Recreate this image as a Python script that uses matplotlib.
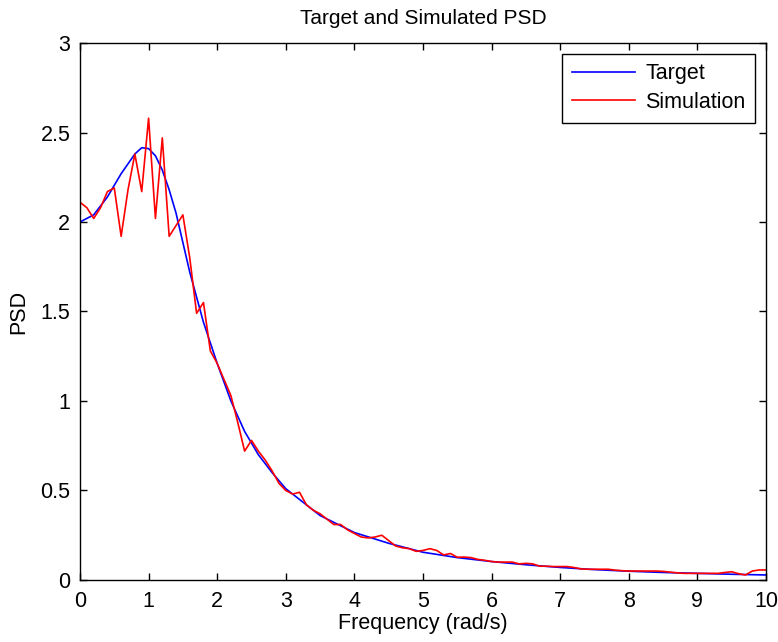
import numpy as np
import matplotlib
matplotlib.use('Agg')
import matplotlib.pyplot as plt
from matplotlib.ticker import FuncFormatter

plt.rcParams['font.family'] = ['Liberation Sans', 'DejaVu Sans']

# target PSD (smooth)
target_freq = [0, 0.2, 0.4, 0.6, 0.8, 0.9, 1.0, 1.1, 1.2, 1.3, 1.4, 1.6, 1.8, 2.0, 2.2, 2.4, 2.6, 2.8, 3.0,
               3.5, 4.0, 4.5, 5.0, 5.5, 6.0, 6.5, 7.0, 7.5, 8.0, 8.5, 9.0, 9.5, 10.0]
target_psd = [2.00, 2.04, 2.14, 2.27, 2.38, 2.415, 2.41, 2.37, 2.29, 2.18, 2.05, 1.72, 1.44, 1.21, 1.00, 0.83,
              0.70, 0.60, 0.51,
              0.36, 0.265, 0.205, 0.155, 0.125, 0.103, 0.085, 0.07, 0.058, 0.049, 0.042, 0.037, 0.032, 0.028]

# simulated PSD, 0.1 rad/s spacing
sim_freq = [round(0.1 * i, 1) for i in range(101)]
sim_psd = [2.11, 2.08, 2.02, 2.08, 2.17, 2.19, 1.92, 2.18, 2.38, 2.17,
           2.58, 2.02, 2.47, 1.92, 1.98, 2.04, 1.80, 1.49, 1.55, 1.28,
           1.21, 1.12, 1.03, 0.88, 0.72, 0.78, 0.72, 0.67, 0.61, 0.54,
           0.50, 0.48, 0.49, 0.42, 0.39, 0.37, 0.34, 0.31, 0.31, 0.28,
           0.26, 0.24, 0.235, 0.24, 0.25, 0.22, 0.19, 0.18, 0.175, 0.16,
           0.165, 0.175, 0.165, 0.14, 0.148, 0.127, 0.128, 0.125, 0.115, 0.11,
           0.103, 0.10, 0.10, 0.10, 0.09, 0.093, 0.09, 0.077, 0.077, 0.075,
           0.075, 0.075, 0.07, 0.062, 0.06, 0.06, 0.06, 0.06, 0.055, 0.052,
           0.05, 0.05, 0.05, 0.05, 0.05, 0.048, 0.044, 0.04, 0.037, 0.037,
           0.037, 0.037, 0.037, 0.037, 0.042, 0.046, 0.035, 0.028, 0.05, 0.056,
           0.056]

fig = plt.figure(figsize=(7.78, 6.42), dpi=100)
ax = fig.add_axes([0.1028, 0.0966, 0.8818, 0.8364])

ax.plot(target_freq, target_psd, color='blue', lw=1.2, label='Target')
ax.plot(sim_freq, sim_psd, color='red', lw=1.2, label='Simulation')

ax.set_xlim(0, 10)
ax.set_ylim(0, 3)
ax.set_xticks(np.arange(0, 11, 1))
ax.set_yticks(np.arange(0, 3.01, 0.5))
ax.yaxis.set_major_formatter(FuncFormatter(lambda v, p: '%g' % v))
ax.tick_params(direction='in', top=True, right=True, length=5, width=1, labelsize=15.5)
ax.tick_params(axis='x', pad=8)
ax.tick_params(axis='y', pad=7)
for s in ax.spines.values():
    s.set_linewidth(1)

ax.set_title('Target and Simulated PSD', fontsize=15, pad=14)
ax.set_xlabel('Frequency (rad/s)', fontsize=15.5, labelpad=1)
ax.set_ylabel('PSD', fontsize=15.5, labelpad=8)

leg = ax.legend(loc='upper right', fontsize=15.5, handlelength=2.9, handletextpad=0.5,
                borderpad=0.45, fancybox=False, framealpha=1, edgecolor='black',
                borderaxespad=0.5, labelspacing=0.35)
leg.get_frame().set_linewidth(1)

fig.savefig('out.png', dpi=100)
